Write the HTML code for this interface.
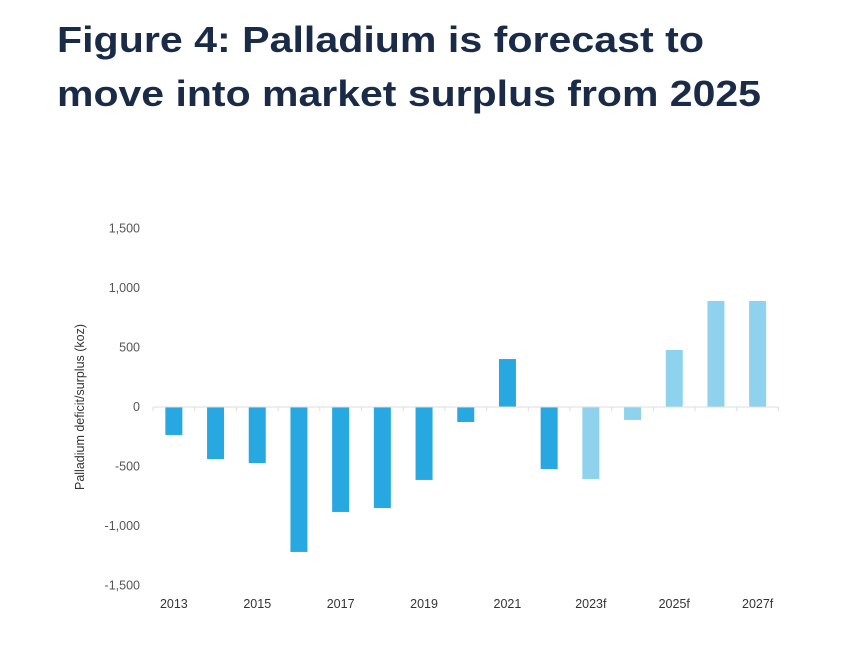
<!DOCTYPE html>
<html><head><meta charset="utf-8"><style>
html,body{margin:0;padding:0;background:#fff;}
svg{display:block;font-family:"Liberation Sans",sans-serif;}
</style></head><body>
<svg id="chart" width="864" height="654" viewBox="0 0 864 654">
<text x="57" y="52" font-size="36" font-weight="bold" fill="#1a2b48" textLength="647" lengthAdjust="spacingAndGlyphs">Figure 4: Palladium is forecast to</text>
<text x="57" y="106" font-size="36" font-weight="bold" fill="#1a2b48" textLength="704" lengthAdjust="spacingAndGlyphs">move into market surplus from 2025</text>
<text transform="translate(84,407) rotate(-90)" text-anchor="middle" font-size="12.5" fill="#333">Palladium deficit/surplus   (koz)</text>
<g id="plot"></g>
</svg>
<script>
const categories=["2013","2014","2015","2016","2017","2018","2019","2020","2021","2022","2023f","2024f","2025f","2026f","2027f"];
const values=[-235,-437,-471,-1218,-882,-849,-613,-126,403,-521,-605,-109,479,891,891];
const forecast=[0,0,0,0,0,0,0,0,0,0,1,1,1,1,1];
const yTicks=[1500,1000,500,0,-500,-1000,-1500];
const yTickLabels=["1,500","1,000","500","0","-500","-1,000","-1,500"];

const NS="http://www.w3.org/2000/svg";
const g=document.getElementById('plot');
const x0=153, step=41.7, barW=17;
const yZero=407, pxPer=59.5/500;
function yScale(v){return yZero-v*pxPer;}
function xCenter(i){return x0+step*(i+0.5);}
function el(tag,attrs){const e=document.createElementNS(NS,tag);for(const k in attrs)e.setAttribute(k,attrs[k]);g.appendChild(e);return e;}

yTicks.forEach((t,i)=>{
  const tx=el('text',{x:140,y:yScale(t)+4,'text-anchor':'end','font-size':12.5,fill:'#555'});
  tx.textContent=yTickLabels[i];
  
  
});
values.forEach((v,i)=>{
  const y1=yScale(Math.max(v,0)), y2=yScale(Math.min(v,0));
  const r=el('rect',{x:xCenter(i)-barW/2,y:y1,width:barW,height:y2-y1,fill:forecast[i]?'#8fd2ee':'#27a8e0'});
  
  
});
const ax=el('line',{x1:x0,x2:x0+step*categories.length,y1:yZero,y2:yZero,stroke:'#ddd','stroke-width':1});


for(let i=0;i<=categories.length;i++){
  const tk=el('line',{x1:x0+step*i,x2:x0+step*i,y1:yZero,y2:yZero+4,stroke:'#ddd'});
  
  
}
categories.forEach((c,i)=>{
  if(i%2) return;
  const tx=el('text',{x:xCenter(i),y:608,'text-anchor':'middle','font-size':12.5,fill:'#333'});
  tx.textContent=c;
  
  
});
</script>
</body></html>
